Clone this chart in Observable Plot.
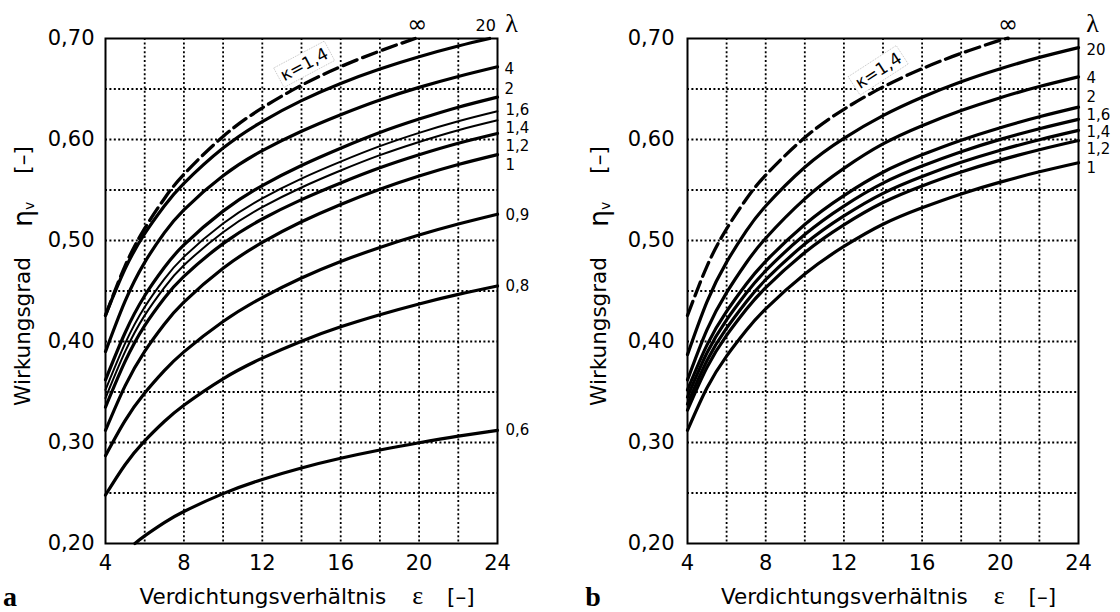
<!DOCTYPE html>
<html><head><meta charset="utf-8">
<script src="https://cdn.jsdelivr.net/npm/d3@7"></script>
<script src="https://cdn.jsdelivr.net/npm/@observablehq/plot@0.6"></script>
<style>
body{margin:0;background:#fff;}
#wrap{display:flex;width:1120px;height:612px;overflow:hidden;}
</style></head><body><div id="wrap"></div>
<script>
// ---------- data ----------
const eps = [4,5,6,7,8,10,12,14,16,18,20,22,24];
const xTicks = [4,8,12,16,20,24];
const yTicks = [0.2,0.3,0.4,0.5,0.6,0.7];
const xGrid = [6,8,10,12,14,16,18,20,22];
const yGrid = [0.25,0.3,0.35,0.4,0.45,0.5,0.55,0.6,0.65];

// chart a  (lambda = infinity, 20, 4, 2, 1.6, 1.4, 1.2, 1, 0.9, 0.8, 0.6)
const a_inf_eps = [4,5,6,7,8,10,12,14,16,18,19.8];
const a_inf = [0.4257,0.4749,0.5120,0.5414,0.5655,0.6030,0.6313,0.6537,0.6721,0.6876,0.7000];
const a_20_eps = [4,5,6,7,8,10,12,14,16,18,20,22,23.6];
const a_20 = [0.4260,0.4720,0.5067,0.5341,0.5565,0.5915,0.6178,0.6385,0.6555,0.6698,0.6820,0.6926,0.7000];
const a_4  = [0.3900,0.4400,0.4784,0.5075,0.5304,0.5641,0.5889,0.6081,0.6245,0.6391,0.6516,0.6624,0.6720];
const a_2  = [0.3620,0.4087,0.4453,0.4732,0.4956,0.5291,0.5544,0.5743,0.5914,0.6069,0.6202,0.6320,0.6420];
const a_16 = [0.3520,0.3981,0.4342,0.4618,0.4838,0.5168,0.5417,0.5613,0.5781,0.5934,0.6066,0.6181,0.6280];
const a_14 = [0.3440,0.3900,0.4259,0.4534,0.4754,0.5082,0.5330,0.5525,0.5693,0.5845,0.5976,0.6092,0.6190];
const a_12 = [0.3350,0.3803,0.4158,0.4429,0.4645,0.4969,0.5213,0.5405,0.5570,0.5720,0.5849,0.5963,0.6060];
const a_1  = [0.3120,0.3561,0.3903,0.4171,0.4390,0.4725,0.4981,0.5185,0.5357,0.5507,0.5638,0.5752,0.5850];
const a_09 = [0.2870,0.3217,0.3489,0.3711,0.3897,0.4198,0.4435,0.4629,0.4792,0.4931,0.5054,0.5163,0.5260];
const a_08 = [0.2480,0.2780,0.3016,0.3208,0.3369,0.3631,0.3835,0.4003,0.4145,0.4265,0.4372,0.4466,0.4550];
const a_06_eps = [5.5,6,7,8,10,12,14,16,18,20,22,24];
const a_06 = [0.2000,0.2076,0.2207,0.2317,0.2494,0.2634,0.2748,0.2844,0.2926,0.2998,0.3063,0.3120];

// chart b  (lambda = infinity, 20, 4, 2, 1.6, 1.4, 1.2, 1)
const b_inf_eps = [4,5,6,7,8,10,12,14,16,18,20,20.4];
const b_inf = [0.4257,0.4747,0.5116,0.5408,0.5647,0.6019,0.6299,0.6520,0.6701,0.6853,0.6983,0.7000];
const b_20 = [0.3870,0.4395,0.4786,0.5093,0.5342,0.5726,0.6012,0.6237,0.6419,0.6572,0.6701,0.6813,0.6910];
const b_4  = [0.3620,0.4118,0.4484,0.4777,0.5022,0.5412,0.5714,0.5956,0.6136,0.6286,0.6414,0.6524,0.6620];
const b_2  = [0.3520,0.3967,0.4298,0.4567,0.4794,0.5159,0.5445,0.5676,0.5848,0.5993,0.6117,0.6225,0.6320];
const b_16 = [0.3450,0.3888,0.4214,0.4477,0.4701,0.5059,0.5341,0.5568,0.5737,0.5879,0.6001,0.6107,0.6200];
const b_14 = [0.3380,0.3812,0.4132,0.4392,0.4612,0.4965,0.5243,0.5467,0.5634,0.5774,0.5894,0.5998,0.6090];
const b_12 = [0.3320,0.3745,0.4060,0.4316,0.4533,0.4881,0.5155,0.5376,0.5540,0.5678,0.5796,0.5899,0.5990];
const b_1  = [0.3120,0.3542,0.3855,0.4108,0.4323,0.4669,0.4941,0.5161,0.5324,0.5461,0.5578,0.5680,0.5770];

const xTitle = "Verdichtungsverhältnis";
const yTitle = "Wirkungsgrad";
const kappaText = "κ=1,4";

// ---------- helpers ----------
const ser = (name, xs, ys) => xs.map((x, i) => ({name, x, y: ys[i]}));
const fmtY = d => d.toFixed(2).replace(".", ",");
const FONT = "DejaVu Sans";

function chart(o) {
  const grid = {stroke: "black", strokeOpacity: 1, strokeWidth: 1.8, strokeDasharray: "2,2.4"};
  const marks = [
    Plot.gridX({ticks: xGrid, ...grid}),
    Plot.gridY({ticks: yGrid, ...grid}),
    Plot.frame({stroke: "black", strokeWidth: 2}),
    Plot.axisX({ticks: xTicks, tickSize: 0, tickPadding: 12, label: null, fontSize: 21}),
    Plot.axisY({ticks: yTicks, tickFormat: fmtY, tickSize: 0, tickPadding: o.yPad, label: null, fontSize: 21}),
    Plot.line(o.thick, {x: "x", y: "y", z: "name", stroke: "black", strokeWidth: 3.2, curve: "natural"}),
    Plot.line(o.thin, {x: "x", y: "y", z: "name", stroke: "black", strokeWidth: 2, curve: "natural"}),
    Plot.line(o.dashed, {x: "x", y: "y", stroke: "black", strokeWidth: 3.3, strokeDasharray: "15,6", curve: "natural"}),
    Plot.text([o.kappa], {x: "x", y: "y", text: () => kappaText, rotate: o.kappa.r, fontSize: 17, className: "kappa"})
  ];
  for (const l of o.labels) {
    marks.push(Plot.text([l], {x: "x", y: "y", text: "t", textAnchor: l.anchor || "start",
      dx: l.dx, dy: l.dy, fontSize: l.fs || 15, fontFamily: l.ff || FONT}));
  }
  const svg = Plot.plot({
    width: 560, height: 612,
    marginLeft: o.ml, marginRight: o.mr, marginTop: 38, marginBottom: 69,
    x: {domain: [4, 24]},
    y: {domain: [0.2, 0.7]},
    style: {fontFamily: FONT, background: "white", color: "black", overflow: "visible"},
    marks
  });
  document.getElementById("wrap").appendChild(svg);
  const s = d3.select(svg);
  // white box behind the kappa label
  s.selectAll("g.kappa text").each(function() {
    const b = this.getBBox();
    const r = document.createElementNS("http://www.w3.org/2000/svg", "rect");
    r.setAttribute("x", b.x - 3); r.setAttribute("y", b.y - 1);
    r.setAttribute("width", b.width + 6); r.setAttribute("height", b.height + 2);
    r.setAttribute("transform", this.getAttribute("transform"));
    r.setAttribute("fill", "white"); r.setAttribute("stroke", "#bbb");
    r.setAttribute("stroke-width", "0.8"); r.setAttribute("stroke-dasharray", "1,1");
    this.parentNode.insertBefore(r, this);
  });
  // x title
  const cx = o.ml + (560 - o.ml - o.mr) / 2 + 6;
  const xt = s.append("text").attr("x", cx).attr("y", 604).attr("text-anchor", "middle")
    .attr("font-size", 21.5).attr("fill", "black");
  xt.append("tspan").text(xTitle);
  xt.append("tspan").attr("dx", 26).style("font-family", "Liberation Serif").attr("font-size", 26).text("ε");
  xt.append("tspan").attr("dx", 24).text("[–]");
  // y title
  const yt = s.append("text").attr("transform", `translate(${o.ytx},276) rotate(-90)`)
    .attr("text-anchor", "middle").attr("dominant-baseline", "central")
    .attr("font-size", 21.5).attr("fill", "black");
  yt.append("tspan").text(yTitle);
  yt.append("tspan").attr("dx", 30).attr("font-size", 27).text("η");
  yt.append("tspan").attr("font-size", 14).attr("dy", 7).text("v");
  yt.append("tspan").attr("dy", -7).attr("dx", 28).text("[–]");
  // panel letter
  s.append("text").attr("x", o.px).attr("y", 606).style("font-family", "Liberation Serif")
    .attr("font-weight", "bold").attr("font-size", 28).attr("fill", "black").text(o.panel);
}

const end = (xs, ys) => ({x: xs[xs.length - 1], y: ys[ys.length - 1]});
const at24 = (ys) => ({x: 24, y: ys[ys.length - 1]});

chart({
  ml: 105, mr: 63, yPad: 11, ytx: 22, px: 10, panel: "a",
  thick: [...ser("20", a_20_eps, a_20), ...ser("4", eps, a_4), ...ser("2", eps, a_2), ...ser("1,2", eps, a_12),
          ...ser("1", eps, a_1), ...ser("0,9", eps, a_09), ...ser("0,8", eps, a_08), ...ser("0,6", a_06_eps, a_06)],
  thin: [...ser("1,6", eps, a_16), ...ser("1,4", eps, a_14)],
  dashed: ser("inf", a_inf_eps, a_inf),
  kappa: {x: 14.15, y: 0.674, r: -28},
  labels: [
    {...end(a_inf_eps, a_inf), t: "∞", dx: 2, dy: -14, anchor: "middle", fs: 24},
    {...end(a_20_eps, a_20), t: "20", dx: -4, dy: -13, anchor: "middle", fs: 16},
    {...at24(a_20), t: "λ", dx: 14, dy: -15, anchor: "middle", fs: 26, ff: "Liberation Serif"},
    {...at24(a_4), t: "4", dx: 7, dy: 2},
    {...at24(a_2), t: "2", dx: 7, dy: -8},
    {...at24(a_16), t: "1,6", dx: 8, dy: -1},
    {...at24(a_14), t: "1,4", dx: 8, dy: 8},
    {...at24(a_12), t: "1,2", dx: 8, dy: 13},
    {...at24(a_1), t: "1", dx: 8, dy: 11},
    {...at24(a_09), t: "0,9", dx: 8, dy: 1},
    {...at24(a_08), t: "0,8", dx: 8, dy: 0},
    {...at24(a_06), t: "0,6", dx: 8, dy: 0}
  ]
});

chart({
  ml: 127, mr: 42, yPad: 13, ytx: 38, px: 33, panel: "b",
  thick: [...ser("20", eps, b_20), ...ser("4", eps, b_4), ...ser("2", eps, b_2), ...ser("1,6", eps, b_16),
          ...ser("1,4", eps, b_14), ...ser("1,2", eps, b_12), ...ser("1", eps, b_1)],
  thin: [],
  dashed: ser("inf", b_inf_eps, b_inf),
  kappa: {x: 13.77, y: 0.668, r: -33},
  labels: [
    {...end(b_inf_eps, b_inf), t: "∞", dx: 0, dy: -14, anchor: "middle", fs: 24},
    {...at24(b_20), t: "λ", dx: 14, dy: -24, anchor: "middle", fs: 26, ff: "Liberation Serif"},
    {...at24(b_20), t: "20", dx: 8, dy: 3},
    {...at24(b_4), t: "4", dx: 8, dy: 1},
    {...at24(b_2), t: "2", dx: 8, dy: -10},
    {...at24(b_16), t: "1,6", dx: 8, dy: -4},
    {...at24(b_14), t: "1,4", dx: 8, dy: 2},
    {...at24(b_12), t: "1,2", dx: 8, dy: 9},
    {...at24(b_1), t: "1", dx: 8, dy: 5}
  ]
});
</script></body></html>
